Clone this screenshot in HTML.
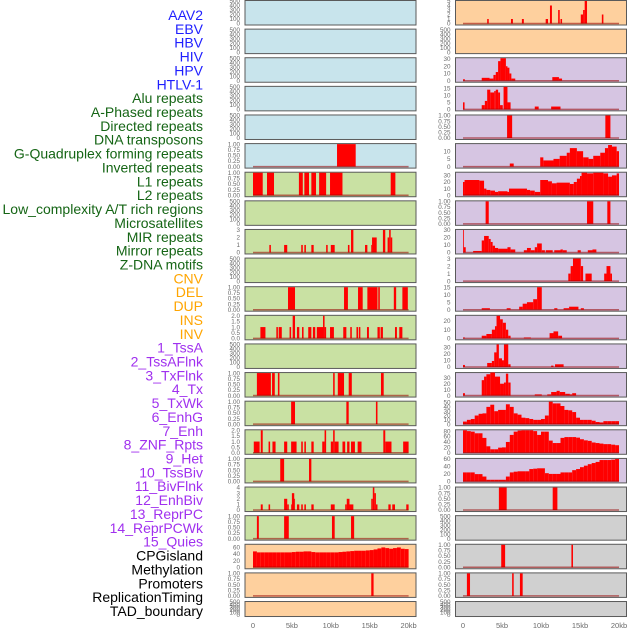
<!DOCTYPE html>
<html><head><meta charset="utf-8"><style>
html,body{margin:0;padding:0;background:#fff;}
svg{display:block;font-family:"Liberation Sans",sans-serif;}
</style></head><body>
<svg id="chart" width="630" height="630" viewBox="0 0 630 630" xmlns="http://www.w3.org/2000/svg"></svg>
<script>
// ---- labels ----
const trackLabels = ["AAV2","EBV","HBV","HIV","HPV","HTLV-1","Alu repeats","A-Phased repeats","Directed repeats","DNA transposons","G-Quadruplex forming repeats","Inverted repeats","L1 repeats","L2 repeats","Low_complexity A/T rich regions","Microsatellites","MIR repeats","Mirror repeats","Z-DNA motifs","CNV","DEL","DUP","INS","INV","1_TssA","2_TssAFlnk","3_TxFlnk","4_Tx","5_TxWk","6_EnhG","7_Enh","8_ZNF_Rpts","9_Het","10_TssBiv","11_BivFlnk","12_EnhBiv","13_ReprPC","14_ReprPCWk","15_Quies","CPGisland","Methylation","Promoters","ReplicationTiming","TAD_boundary"];
const labelGroups = [6,13,5,15,5];
const groupColors = ["#1f1fff","#156515","#ffa500","#a030ef","#000000"];
const xTickKb = [0,5,10,15,20];
const xTickLabels = ["0","5kb","10kb","15kb","20kb"];

// ---- tick label sets ----
const T500 = ["0","100","200","300","400","500"];
const T1 = ["0.00","0.25","0.50","0.75","1.00"];
const T2 = ["0.0","0.5","1.0","1.5","2.0"];

// ---- left column data: [startKb, endKb, value] ----
const L5 = [[10.8,13.2,1]];
const L6 = [[0,1.25,1],[1.8,2.7,1],[5.9,6.4,1],[6.6,7.2,1],[7.5,8.1,1],[8.5,9.4,1],[9.9,11.5,1],[17.7,18.3,1]];
const L8 = [[2.1,2.3,1],[4.0,4.4,1],[6.2,6.4,1],[6.6,6.8,1],[7.5,7.8,1],[9.4,9.6,1],[10.0,10.5,1],[12.2,12.4,1],[12.6,12.9,3],[14.4,14.7,1],[15.2,15.3,1],[15.3,15.9,2],[16.7,17.0,3],[17.3,17.5,2],[17.5,17.7,3],[17.7,17.9,2]];
const L10 = [[4.5,5.4,1],[11.7,12.2,1],[13.5,14.1,1],[14.7,16.0,1],[16.1,16.3,1],[18.1,18.4,1],[19.2,19.9,1]];
const L11 = [[0.95,1.6,1],[3.0,3.2,1],[3.3,3.7,1],[4.7,4.9,1],[5.1,5.4,2],[5.65,5.95,1],[6.3,6.5,1],[7.1,7.5,1],[7.7,8.0,1],[8.2,9.0,1],[9.0,9.2,2],[9.2,9.4,1],[9.9,10.4,1],[11.6,12.0,1],[12.5,12.7,1],[13.3,13.5,1],[13.6,13.8,1],[14.65,14.9,1],[16.0,16.3,1],[16.4,16.7,1],[18.25,18.5,1],[18.8,19.2,1]];
const L13 = [[0.5,2.3,1],[2.45,2.8,1],[3.2,3.4,1],[10.3,10.5,1],[10.9,11.7,1],[12.3,12.7,1],[16.45,16.8,1]];
const L14 = [[4.9,5.4,1],[12.0,12.3,1],[15.8,16.0,1]];
const L15 = [[0.1,0.85,1],[1.0,1.25,2],[2.0,2.2,1],[2.5,2.9,1],[4.0,4.4,1],[4.9,5.6,1],[6.2,6.4,1],[6.6,6.8,1],[7.5,7.8,1],[8.9,9.2,1],[9.2,9.4,2],[10.0,10.3,1],[10.3,10.5,2],[10.5,11.0,1],[11.5,11.85,1],[12.1,12.4,1],[12.6,13.1,1],[13.45,13.95,1],[16.75,17.0,2],[17.0,17.8,1],[19.3,20.0,1]];
const L16 = [[3.5,4.0,1],[7.2,7.5,1]];
const L17 = [[1.0,1.25,1],[2.0,2.2,1],[4.0,4.4,2],[4.4,4.6,1],[4.9,5.0,1],[5.0,5.3,3],[5.3,5.4,2],[5.65,5.95,1],[6.2,6.4,1],[6.6,6.8,1],[7.5,7.8,1],[10.0,10.5,1],[11.85,12.05,1],[12.05,12.4,2],[12.4,12.9,1],[15.2,15.4,2],[15.4,15.6,4],[15.6,15.8,3],[15.8,16.0,1],[17.4,17.7,1],[17.9,18.25,1],[19.7,20.0,1]];
const L18 = [[0.5,0.75,1],[4.0,4.6,1],[10.15,10.5,1],[12.6,13.0,1]];
const L19bins = [48,45,45,45,45,45,45,45,45,45,46,47,47,48,48,46,45,45,45,45,45,45,46,47,48,49,50,50,50,51,52,54,57,60,58,56,58,60,56,55];
const L20 = [[15.2,15.5,1]];

// ---- right column data ----
const R0 = [[3.1,3.3,1],[6.15,6.4,1],[7.55,7.8,1],[10.6,10.9,1],[11.15,11.4,4],[12.2,12.4,3],[12.5,12.7,1],[15.1,15.4,2],[15.4,15.6,3],[15.6,15.9,5],[17.8,18.0,2]];
const R2 = [[0,0.25,2],[2.4,3.4,4],[3.4,3.9,3],[3.9,4.2,8],[4.2,4.5,12],[4.5,4.8,27],[4.8,5.5,31],[5.5,5.7,20],[5.7,5.95,18],[5.95,6.2,10],[6.2,6.7,3],[11.45,12.3,5],[12.3,12.7,3]];
const R3 = [[0,0.2,5],[2.4,2.8,3],[2.8,3.1,6],[3.1,3.5,14],[3.5,4.0,12],[4.0,4.2,13],[4.2,4.5,14],[4.5,4.75,12],[4.75,5.1,3],[5.2,5.7,16],[5.7,6.1,5],[9.2,9.7,2],[11.3,12.5,2]];
const R4 = [[5.65,6.3,1],[18.25,18.9,1]];
const R5 = [[6.0,6.5,2],[9.9,10.3,6],[10.3,11.6,4],[11.6,12.4,5],[12.4,13.3,7],[13.3,13.7,9],[13.7,14.6,12],[14.6,15.4,10],[15.4,16.1,6],[16.1,16.7,5],[16.7,17.6,7],[17.6,18.2,9],[18.2,18.6,12],[18.6,19.1,14],[19.1,19.7,13],[19.7,20.0,10]];
const R6 = [[0,0.2,20],[0.2,2.1,23],[2.1,2.7,22],[2.7,3.0,10],[3.0,3.5,8],[3.5,4.1,7],[4.1,4.5,5],[4.5,5.7,6],[5.7,5.9,5],[5.9,8.2,10],[8.2,8.6,8],[8.6,9.2,7],[9.2,9.9,5],[9.9,10.9,23],[10.9,11.4,21],[11.4,12.0,18],[12.0,13.7,19],[13.7,14.2,17],[14.2,14.6,20],[14.6,15.0,25],[15.0,15.2,29],[15.2,15.9,34],[15.9,16.7,33],[16.7,18.0,34],[18.0,18.6,33],[18.6,19.1,28],[19.1,19.7,30],[19.7,20.0,33]];
const R7 = [[2.9,3.3,1],[15.9,16.7,1],[18.5,18.9,1]];
const R8 = [[0,0.1,30],[0.1,0.35,7],[1.3,2.4,2],[2.4,2.7,16],[2.7,3.3,22],[3.3,3.55,18],[3.55,3.8,14],[3.8,4.1,9],[4.1,4.5,6],[4.5,5.7,5],[5.7,6.1,7],[6.1,6.7,4],[7.8,8.2,3],[8.2,8.7,6],[8.7,9.2,3],[9.2,9.5,7],[9.5,10.1,12],[10.1,10.5,3],[10.6,11.5,3],[11.7,12.5,3],[12.5,12.8,4],[12.8,13.3,3],[14.7,15.1,3],[16.0,16.6,3],[16.6,17.1,4]];
const R9 = [[13.5,13.8,1],[13.8,14.1,2],[14.1,15.1,3],[15.1,15.4,2],[15.7,16.5,1],[18.1,18.4,1],[18.4,18.9,2],[18.9,19.1,1]];
const R10 = [[2.4,3.45,1],[5.6,6.1,1],[7.2,7.65,2],[7.65,8.2,4],[8.2,9.0,5],[9.0,9.5,7],[9.5,10.1,15],[11.7,12.1,1],[12.9,13.6,1],[13.6,14.8,2],[15.1,15.5,1]];
const R11 = [[0,0.25,1],[2.4,3.0,3],[3.0,3.7,5],[3.7,4.1,10],[4.1,4.3,14],[4.3,4.75,26],[4.75,5.1,22],[5.1,5.5,18],[5.5,5.8,10],[5.8,6.1,3],[7.8,8.7,1],[11.1,11.6,6],[11.6,12.2,8],[12.2,12.7,3]];
const R12 = [[0,0.25,3],[3.1,3.7,6],[3.7,4.0,9],[4.0,4.3,22],[4.3,4.6,34],[4.6,5.0,13],[5.0,5.25,10],[5.25,5.8,34],[5.8,6.1,4],[11.3,11.6,2],[11.8,12.9,4]];
const R13 = [[0,0.25,4],[2.4,2.7,26],[2.7,3.0,32],[3.0,3.5,36],[3.5,4.1,39],[4.1,4.75,32],[4.75,5.25,20],[5.25,5.5,22],[5.5,5.8,37],[5.8,6.1,22],[9.2,10.1,2],[10.8,11.3,2],[11.3,12.0,6],[12.0,12.4,8],[12.4,13.1,6],[13.1,13.7,3],[13.7,14.0,2],[14.0,14.5,4]];
const R14bins = [6,10,12,20,24,25,40,45,30,33,33,46,40,25,22,15,14,12,10,10,12,20,52,48,48,42,33,32,28,15,10,10,10,8,5,4,7,7,7,7];
const R15bins = [83,80,78,72,72,55,24,13,13,19,20,40,66,78,82,83,83,83,80,66,78,78,45,36,36,55,58,58,58,56,50,46,44,38,36,34,32,32,30,28];
const R16bins = [24,24,24,19.5,19.5,13,4.4,4.4,4.4,4.4,4.4,13,24,26,27,27,27,33,34,35,35,22,20,20,20,24,24,24,30,33,38,42,46,49,52,57,57,57,58,60];
const R17 = [[4.6,5.6,1],[11.5,12.1,1]];
const R19 = [[4.9,5.4,1],[13.9,14.1,1]];
const R20 = [[0.5,0.9,1],[6.3,6.5,1],[7.3,7.65,1]];

function bins(b){ return b.map((v,i)=>[i*0.5,(i+1)*0.5,v]); }

const leftSpecs = [
 [[],500,T500],[[],500,T500],[[],500,T500],[[],500,T500],[[],500,T500],
 [L5,1,T1],[L6,1,T1],[[],500,T500],[L8,3,["0","1","2","3"]],[[],500,T500],
 [L10,1,T1],[L11,2,T2],[[],500,T500],[L13,1,T1],[L14,1,T1],
 [L15,2,T2],[L16,1,T1],[L17,4,["0","1","2","3","4"]],[L18,1,T1],
 [bins(L19bins),68,["0","20","40","60"]],[L20,1,T1],[[],500,T500]
];
const rightSpecs = [
 [R0,5,["0","1","2","3","4","5"]],[[],500,T500],[R2,31,["0","10","20","30"]],[R3,16,["0","5","10","15"]],
 [R4,1,T1],[R5,14.6,["0","5","10"]],[R6,34,["0","10","20","30"]],[R7,1,T1],
 [R8,30,["0","10","20","30"]],[R9,3,["0","1","2","3"]],[R10,15,["0","5","10","15"]],
 [R11,26,["0","10","20"]],[R12,34,["0","10","20","30"]],[R13,38,["0","10","20","30"]],
 [bins(R14bins),52,["0","10","20","30","40","50"]],[bins(R15bins),83,["0","20","40","60","80"]],
 [bins(R16bins),60,["0","20","40","60"]],[R17,1,T1],[[],500,T500],[R19,1,T1],[R20,1,T1],[[],500,T500]
];
const leftBg = i => i<6 ? "#c8e4ec" : (i<19 ? "#c9e1a3" : "#fed09e");
const rightBg = i => i<2 ? "#fed09e" : (i<17 ? "#d6c5e2" : "#d0d0d0");

const NS = "http://www.w3.org/2000/svg";
const svg = document.getElementById('chart');
function mk(tag, attrs, parent){
  const e = document.createElementNS(NS, tag);
  for (const k in attrs) e.setAttribute(k, attrs[k]);
  (parent||svg).appendChild(e);
  return e;
}

// labels
let gi=0, gc=0;
trackLabels.forEach((name,i)=>{
  while (gc >= labelGroups[gi]) { gi++; gc=0; }
  gc++;
  const t = mk('text', {x:203, y:15+i*13.86+5, 'text-anchor':'end', 'font-size':'14', fill:groupColors[gi]});
  
  
  t.textContent = name;
});

function drawPanel(spec, row, col){
  const [segs, ymax, ticks] = spec;
  const px0 = col===0 ? 245 : 455.5;
  const pw = 171;
  const k0 = col===0 ? 253 : 463;
  const kScale = col===0 ? 7.78 : 7.8;
  const top = row*28.62;
  const h = row===21 ? 15.5 : 25;
  const pTop = top+1, pBot = top+h-1.5;
  const xk = kb => k0 + kb*kScale;
  const yv = v => pBot - v/ymax*(pBot-pTop);
  const g = mk('g', {});
  
  
  const bg = mk('rect', {x:px0, y:top+0.5, width:pw, height:h-0.5, fill: col===0?leftBg(row):rightBg(row), stroke:'#5a5a5a', 'stroke-width':'1'}, g);
  
  
  segs.forEach(s=>{
    const r = mk('rect', {x:xk(s[0]), y:yv(s[2]), width:Math.max(0.8,xk(s[1])-xk(s[0])), height:pBot-yv(s[2]), fill:'#ff0000'}, g);
    
    
  });
  if (segs.length) {
    const bl = mk('line', {x1:xk(0), x2:xk(20), y1:pBot, y2:pBot, stroke:'rgba(150,0,0,0.55)', 'stroke-width':'1.5'}, g);
    
    
  }
  ticks.forEach((lab,j)=>{
    const v = ymax===500 ? j*100 : (ticks===T1 ? j*0.25 : (ticks===T2 ? j*0.5 : parseFloat(lab)));
    const t = mk('text', {x:px0-5, y:yv(v)+2.2, 'text-anchor':'end', 'font-size':'6.3', fill:'#6a6a6a'}, g);
    
    
    t.textContent = lab;
  });
}
leftSpecs.forEach((s,i)=>drawPanel(s,i,0));
rightSpecs.forEach((s,i)=>drawPanel(s,i,1));

// x axis labels
[0,1].forEach(col=>{
  const k0 = col===0 ? 253 : 463;
  const kScale = col===0 ? 7.78 : 7.8;
  xTickKb.forEach((kb,j)=>{
    const t = mk('text', {x:k0+kb*kScale, y:628, 'text-anchor':'middle', 'font-size':'7.5', fill:'#6a6a6a'});
    
    
    t.textContent = xTickLabels[j];
  });
});
</script>
</body></html>
